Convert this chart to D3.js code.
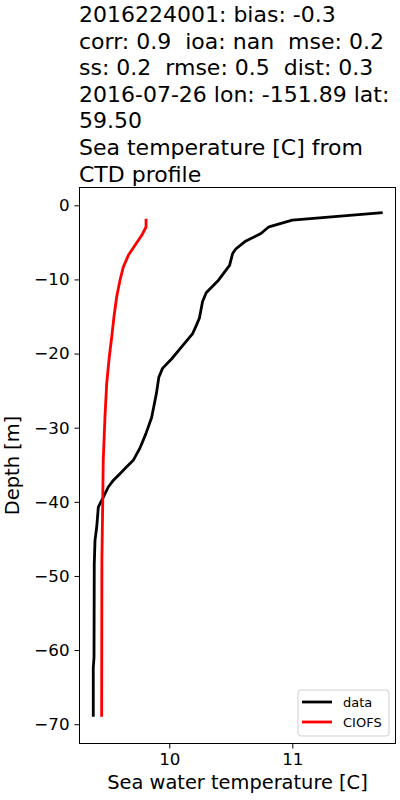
<!DOCTYPE html>
<html><head><meta charset="utf-8">
<script src="https://cdn.jsdelivr.net/npm/d3@7"></script>
<style>body{margin:0;background:#fff}svg{display:block}text{font-family:"DejaVu Sans",sans-serif;white-space:pre}</style>
</head><body>
<script>
const titleLines = ["2016224001: bias: -0.3","corr: 0.9  ioa: nan  mse: 0.2","ss: 0.2  rmse: 0.5  dist: 0.3","2016-07-26 lon: -151.89 lat:","59.50","Sea temperature [C] from","CTD profile"];
const xTicks = [10, 11];
const yTicks = [0, -10, -20, -30, -40, -50, -60, -70];
const dataDepth = [-1, -2, -2.9, -3.8, -4.9, -5.9, -6.5, -8.1, -10.1, -11.8, -13, -15.2, -16.2, -17.3, -19.1, -20.7, -22.0, -23.2, -25.4, -28.6, -30.8, -32.8, -34.4, -35.5, -36.2, -37.2, -38, -39.4, -40.7, -43.4, -45.2, -48.4, -61, -62.4, -69];
const dataTemp  = [11.735, 11.0, 10.81, 10.745, 10.615, 10.54, 10.515, 10.49, 10.40, 10.30, 10.27, 10.245, 10.22, 10.19, 10.10, 10.02, 9.945, 9.915, 9.895, 9.857, 9.81, 9.76, 9.707, 9.64, 9.599, 9.54, 9.504, 9.463, 9.423, 9.41, 9.396, 9.39, 9.388, 9.382, 9.382];
const modelDepth = [-1.8, -2.93, -4.05, -5.4, -6.75, -8.33, -10.12, -12.37, -15.07, -17.77, -20.47, -24.06, -28.57, -34.41, -39.8, -48, -69];
const modelTemp  = [9.811, 9.811, 9.776, 9.721, 9.667, 9.626, 9.599, 9.572, 9.550, 9.532, 9.512, 9.491, 9.477, 9.463, 9.459, 9.452, 9.45];
const seriesNames = ["data", "CIOFS"];
const seriesColors = ["#000000", "#ff0000"];

const W = 400, H = 800;
const L = 79.5, R = 395.5, T = 187.5, B = 743.5;
const svg = d3.select("body").append("svg").attr("width", W).attr("height", H);
const x = d3.scaleLinear().domain([9.270, 11.839]).range([L, R]);
const y = d3.scaleLinear().domain([2.4, -72.6]).range([T, B]);

const tt = svg.append("text").attr("x", 79).attr("font-size", 22).attr("fill", "#000").attr("xml:space", "preserve");
titleLines.forEach((s, i) => tt.append("tspan").attr("x", 79).attr("y", 22 + i * 26.6).text(s));

const fmt = d => d3.format("d")(d).replace("-", "\u2212");
const gx = svg.append("g").attr("transform", `translate(0,${B})`)
  .call(d3.axisBottom(x).tickValues(xTicks).tickSize(5).tickPadding(5).tickFormat(fmt));
const gy = svg.append("g").attr("transform", `translate(${L},0)`)
  .call(d3.axisLeft(y).tickValues(yTicks).tickSize(5).tickPadding(5).tickFormat(fmt));
[gx, gy].forEach(g => {
  g.select(".domain").remove();
  g.selectAll("line").attr("stroke", "#000").attr("stroke-width", 1);
  g.selectAll("text").attr("font-size", 16.7).attr("fill", "#000").attr("font-family", "DejaVu Sans");
});

svg.append("rect").attr("x", L).attr("y", T).attr("width", R - L).attr("height", B - T)
  .attr("fill", "none").attr("stroke", "#000").attr("stroke-width", 1);

const series = [
  {name: seriesNames[0], color: seriesColors[0], pts: dataDepth.map((d, i) => [dataTemp[i], d])},
  {name: seriesNames[1], color: seriesColors[1], pts: modelDepth.map((d, i) => [modelTemp[i], d])}
];
const line = d3.line().x(p => x(p[0])).y(p => y(p[1]));
series.forEach(s => svg.append("path").attr("d", line(s.pts)).attr("fill", "none")
  .attr("stroke", s.color).attr("stroke-width", 2.8).attr("stroke-linejoin", "round"));

svg.append("text").attr("x", (L + R) / 2).attr("y", 789).attr("text-anchor", "middle")
  .attr("font-size", 19.4).text("Sea water temperature [C]");
svg.append("text").attr("transform", `translate(19,${(T + B) / 2}) rotate(-90)`).attr("text-anchor", "middle")
  .attr("font-size", 19.4).text("Depth [m]");

const lg = svg.append("g");
lg.append("rect").attr("x", 298).attr("y", 690).attr("width", 91).attr("height", 46).attr("rx", 3)
  .attr("fill", "#fff").attr("fill-opacity", 0.8).attr("stroke", "#d0d0d0").attr("stroke-width", 1);
series.forEach((s, i) => {
  const yy = 702 + i * 20;
  lg.append("line").attr("x1", 302).attr("x2", 332).attr("y1", yy).attr("y2", yy)
    .attr("stroke", s.color).attr("stroke-width", 2.8);
  lg.append("text").attr("x", 343).attr("y", yy + 4.5).attr("font-size", 13).text(s.name);
});
</script>
</body></html>
